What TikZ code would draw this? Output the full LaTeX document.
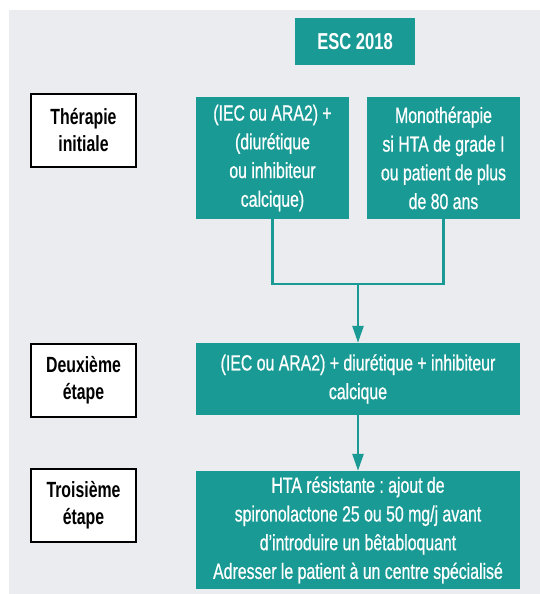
\documentclass[tikz,border=0pt]{standalone}
\usepackage{fontspec}
\setmainfont{Liberation Sans}[FakeStretch=0.72]
\newfontfamily\boxfont{Liberation Sans}[FakeStretch=0.72, FakeBold=0.7]
\usetikzlibrary{arrows.meta}
\definecolor{escteal}{RGB}{25,154,149}
\definecolor{panelgrey}{RGB}{235,236,240}
\frenchspacing
\begin{document}
\begin{tikzpicture}[x=1pt,y=-1pt,
  tealbox/.style={fill=escteal, text=white, inner sep=0pt, align=center,
    font=\boxfont\fontsize{22}{28.7}\selectfont},
  stagebox/.style={draw=black, line width=2pt, fill=white, inner sep=0pt,
    align=center, font=\bfseries\fontsize{22}{27}\selectfont},
  link/.style={draw=escteal, line width=2.6pt},
  flow/.style={link, -{Triangle[length=17pt,width=11pt]}}]
  % page and panel
  \useasboundingbox (0,0) rectangle (540,594);
  \fill[white] (0,0) rectangle (540,594);
  \fill[panelgrey] (9,10) rectangle (540,594);

  % header
  \node[tealbox, minimum width=120pt, minimum height=47pt,
        font=\bfseries\fontsize{23}{26}\selectfont] (esc) at (355,41.5) {ESC 2018};

  % stage labels
  \node[stagebox, minimum width=105pt, minimum height=73pt] (s1) at (83.5,130) {Thérapie\\initiale};
  \node[stagebox, minimum width=105pt, minimum height=73pt] (s2) at (83.5,380) {Deuxième\\étape};
  \node[stagebox, minimum width=105pt, minimum height=73pt] (s3) at (83.5,505.5) {Troisième\\étape};

  % treatment boxes
  \node[tealbox, minimum width=153pt, minimum height=122pt] (a) at (272.5,158)
    {(IEC ou ARA2) +\\(diurétique\\ou inhibiteur\\calcique)};
  \node[tealbox, minimum width=153pt, minimum height=122pt] (b) at (443.5,158)
    {Monothérapie\\si HTA de grade I\\ou patient de plus\\de 80 ans};
  \node[tealbox, minimum width=324pt, minimum height=72pt] (c) at (358,379)
    {(IEC ou ARA2) + diurétique + inhibiteur\\calcique};
  \node[tealbox, minimum width=324pt, minimum height=118pt] (d) at (358,530)
    {HTA résistante : ajout de\\spironolactone 25 ou 50 mg/j avant\\d’introduire un bêtabloquant\\Adresser le patient à un centre spécialisé};

  % connectors
  \coordinate (j) at (358,284);
  \draw[link] (a.south) |- (j);
  \draw[link] (b.south) |- (j);
  \draw[flow] (j) -- (c.north);
  \draw[flow] (c.south) -- (d.north);
\end{tikzpicture}
\end{document}
